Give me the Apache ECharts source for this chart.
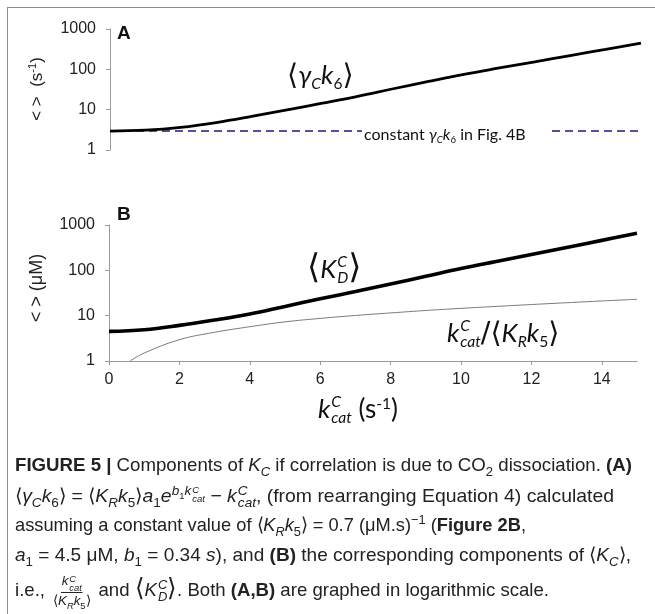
<!DOCTYPE html>
<html>
<head>
<meta charset="utf-8">
<script src="https://cdn.jsdelivr.net/npm/echarts@6/dist/echarts.min.js"></script>
<style>
  body { margin: 0; background: #fff; }
  #wrap { position: relative; width: 655px; height: 614px; overflow: hidden; background: #fff; }
  #chart { position: absolute; left: 0; top: 0; width: 655px; height: 614px; }
  #frame { position: absolute; left: 7px; top: 7px; width: 660px; height: 620px;
           border-top: 1.5px solid #8c8c8c; border-left: 1.5px solid #8c8c8c; pointer-events: none; }
  .lbl { position: absolute; white-space: nowrap; font-family: Lato, "Open Sans", sans-serif;
         color: #111; line-height: 1; }
  .lbl i { font-style: italic; }
  .br { font-family: "DejaVu Sans", sans-serif; font-weight: normal; font-style: normal; }
  .sb { font-size: 0.6em; vertical-align: -0.3em; }
  .sp { font-size: 0.6em; vertical-align: 0.55em; }
  .ss { display: inline-flex; flex-direction: column; font-size: 0.6em; line-height: 1;
        vertical-align: 0.7em; margin-left: 1px; }
  .cap { position: absolute; left: 15px; white-space: nowrap; transform-origin: 0 50%;
         font-family: "Liberation Sans", Arial, sans-serif; font-size: 19px; color: #222; line-height: 1; }
  .cap sub, .cap sup { font-size: 0.7em; line-height: 0; }
  .cap .ss { font-size: 0.7em; vertical-align: 0.55em; line-height: 0.9; }
  .cap .ang { font-family: "DejaVu Sans", sans-serif; font-weight: 200; }
  .frac { display: inline-flex; flex-direction: column; align-items: center; vertical-align: middle;
          font-size: 0.72em; line-height: 1.05; margin: 0 3px; }
  .frac .num { border-bottom: 1px solid #222; padding: 0 1px; }
</style>
</head>
<body>
<div id="wrap">
  <div id="chart"></div>
  <div id="frame"></div>

  <!-- curve annotations -->
  <div class="lbl" id="labA" style="left:287px;top:60px;font-size:26px">
    <span class="br" style="font-size:1.1em">⟨</span><i>γ</i><i class="sb">C</i><i>k</i><span class="sb">6</span><span class="br" style="font-size:1.1em">⟩</span>
  </div>
  <div class="lbl" id="labConst" style="left:362px;top:125px;font-size:16px;background:#fff;padding:1px 24px 1px 2px">
    constant <i>γ</i><i class="sb">C</i><i>k</i><span class="sb">6</span> in Fig. 4B
  </div>
  <div class="lbl" id="labKD" style="left:307px;top:250px;font-size:26px">
    <span class="br" style="font-size:1.3em">⟨</span><i>K</i><span class="ss"><i>C</i><i>D</i></span><span class="br" style="font-size:1.3em">⟩</span>
  </div>
  <div class="lbl" id="labRatio" style="left:447px;top:318px;font-size:26px">
    <i>k</i><span class="ss"><i>C</i><i>cat</i></span><span class="br" style="font-size:1.1em">/⟨</span><i>K</i><i class="sb">R</i><i>k</i><span class="sb">5</span><span class="br" style="font-size:1.1em">⟩</span>
  </div>
  <div class="lbl" id="labX" style="left:318px;top:394px;font-size:26px">
    <i>k</i><span class="ss"><i>C</i><i>cat</i></span> (s<span class="sp">-1</span>)
  </div>

  <!-- caption -->
  <div class="cap" data-w="617" style="top:455px"><b>FIGURE 5 |</b> Components of <i>K</i><sub><i>C</i></sub> if correlation is due to CO<sub>2</sub> dissociation. <b>(A)</b></div>
  <div class="cap" data-w="599" style="top:485px"><span class="ang">⟨</span><i>γ</i><sub><i>C</i></sub><i>k</i><sub>6</sub><span class="ang">⟩</span> = <span class="ang">⟨</span><i>K</i><sub><i>R</i></sub><i>k</i><sub>5</sub><span class="ang">⟩</span><i>a</i><sub>1</sub><i>e</i><sup><i>b</i><sub>1</sub><i>k</i><span class="ss" style="vertical-align:0.2em"><i>C</i><i>cat</i></span></sup> − <i>k</i><span class="ss"><i>C</i><i>cat</i></span>, (from rearranging Equation 4) calculated</div>
  <div class="cap" data-w="511" style="top:515px">assuming a constant value of <span class="ang">⟨</span><i>K</i><sub><i>R</i></sub><i>k</i><sub>5</sub><span class="ang">⟩</span> = 0.7 (μM.s)<sup>−1</sup> (<b>Figure 2B</b>,</div>
  <div class="cap" data-w="616" style="top:545px"><i>a</i><sub>1</sub> = 4.5 μM, <i>b</i><sub>1</sub> = 0.34 <i>s</i>), and <b>(B)</b> the corresponding components of <span class="ang">⟨</span><i>K</i><sub><i>C</i></sub><span class="ang">⟩</span>,</div>
  <div class="cap" data-w="534" style="top:574px">i.e., <span class="frac"><span class="num"><i>k</i><span class="ss" style="vertical-align:0.3em"><i>C</i><i>cat</i></span></span><span><span class="ang">⟨</span><i>K</i><sub><i>R</i></sub><i>k</i><sub>5</sub><span class="ang">⟩</span></span></span> and <span class="ang" style="font-size:1.3em">⟨</span><i>K</i><span class="ss"><i>C</i><i>D</i></span><span class="ang" style="font-size:1.3em">⟩</span>. Both <b>(A,B)</b> are graphed in logarithmic scale.</div>
</div>

<script>
  // x values (k_cat^C, s^-1)
  var xs = [0, 1, 2, 3, 4, 5, 6, 7, 8, 9, 10, 11, 12, 13, 14, 15];
  // panel A: <gamma_C k6>
  var gammaK6 = [2.95, 3.1, 3.65, 4.8, 6.8, 9.9, 14.5, 21.5, 33, 50, 75, 108, 154, 220, 312, 445];
  // panel A: constant gamma_C k6 in Fig. 4B
  var constX = [0, 15];
  var constVal = [2.95, 2.95];
  // panel B: <K_D^C>
  var kdC = [4.5, 4.9, 6.1, 8.0, 10.9, 16.0, 23.5, 34, 50, 74, 110, 157, 224, 320, 458, 655];
  // panel B: k_cat^C / <K_R k5>
  var ratioX = [0.6, 1, 2, 3, 4, 5, 6, 7, 8, 9, 10, 11, 12, 13, 14, 15];
  var ratio = [1.0, 1.5, 2.95, 4.3, 5.7, 7.3, 8.7, 10.1, 11.5, 13, 14.5, 16, 17.6, 19.3, 21.1, 23];
  // ticks
  var xTicks = [0, 2, 4, 6, 8, 10, 12, 14];
  var yTicks = [1, 10, 100, 1000];

  function zip(a, b) {
    return a.map(function (v, i) { return [v, b[i]]; });
  }

  var myChart = echarts.init(document.getElementById('chart'));

  var axisGray = '#9a9a9a';
  var tickFont = { fontFamily: 'Liberation Sans', fontSize: 16, color: '#222' };

  function logAxis(grid) {
    return {
      type: 'log', gridIndex: grid, logBase: 10, min: 1, max: 1000,
      axisLine: { show: true, lineStyle: { color: axisGray, width: 1 } },
      axisTick: { show: true, length: 4, lineStyle: { color: axisGray },
                  customValues: yTicks },
      axisLabel: Object.assign({
        margin: 14, customValues: yTicks,
        formatter: function (v) { return String(Math.round(v)); }
      }, tickFont),
      splitLine: { show: false },
      minorTick: { show: false }
    };
  }

  var option = {
    animation: false,
    backgroundColor: 'transparent',
    grid: [
      { left: 110, right: 14, top: 29, height: 121 },
      { left: 109, right: 18, top: 225, height: 136 }
    ],
    xAxis: [
      { type: 'value', gridIndex: 0, min: 0, max: 15, show: false },
      {
        type: 'value', gridIndex: 1, min: 0, max: 15,
        axisLine: { show: true, lineStyle: { color: axisGray, width: 1 } },
        axisTick: { show: true, length: 4, lineStyle: { color: axisGray }, customValues: xTicks },
        axisLabel: Object.assign({ margin: 11, customValues: xTicks }, tickFont),
        splitLine: { show: false }
      }
    ],
    yAxis: [logAxis(0), logAxis(1)],
    series: [
      {
        name: 'constant', type: 'line', xAxisIndex: 0, yAxisIndex: 0,
        data: zip(constX, constVal), showSymbol: false,
        lineStyle: { color: '#1a1a80', width: 1.6, type: [8, 5] }
      },
      {
        name: 'gammaK6', type: 'line', xAxisIndex: 0, yAxisIndex: 0,
        data: zip(xs, gammaK6), smooth: 0.4, showSymbol: false,
        lineStyle: { color: '#000', width: 2.8 }
      },
      {
        name: 'ratio', type: 'line', xAxisIndex: 1, yAxisIndex: 1,
        data: zip(ratioX, ratio), smooth: 0.4, showSymbol: false,
        lineStyle: { color: '#7a7a7a', width: 1 }
      },
      {
        name: 'KD', type: 'line', xAxisIndex: 1, yAxisIndex: 1,
        data: zip(xs, kdC), smooth: 0.4, showSymbol: false,
        lineStyle: { color: '#000', width: 3.6 }
      }
    ],
    graphic: [
      { type: 'text', x: 117, y: 34, style: { text: 'A', font: 'bold 19px "Liberation Sans"', fill: '#111', verticalAlign: 'middle' } },
      { type: 'text', x: 117, y: 215, style: { text: 'B', font: 'bold 19px "Liberation Sans"', fill: '#111', verticalAlign: 'middle' } },
      {
        type: 'text', x: 37, y: 89, rotation: Math.PI / 2,
        style: {
          text: '< >  (s{sup|-1})', align: 'center', verticalAlign: 'middle',
          font: '17px "Liberation Sans"', fill: '#222',
          rich: { sup: { fontSize: 11, fontFamily: 'Liberation Sans', fill: '#222', padding: [0, 0, 8, 0] } }
        }
      },
      {
        type: 'text', x: 37, y: 288, rotation: Math.PI / 2,
        style: {
          text: '< > (μM)', align: 'center', verticalAlign: 'middle',
          font: '18px "Liberation Sans"', fill: '#222'
        }
      }
    ]
  };

  myChart.setOption(option);

  // fit caption lines to the widths they take in the figure
  document.querySelectorAll('.cap').forEach(function (el) {
    var w = el.getBoundingClientRect().width;
    var target = parseFloat(el.getAttribute('data-w'));
    el.style.transform = 'scaleX(' + (target / w) + ')';
  });
</script>
</body>
</html>
